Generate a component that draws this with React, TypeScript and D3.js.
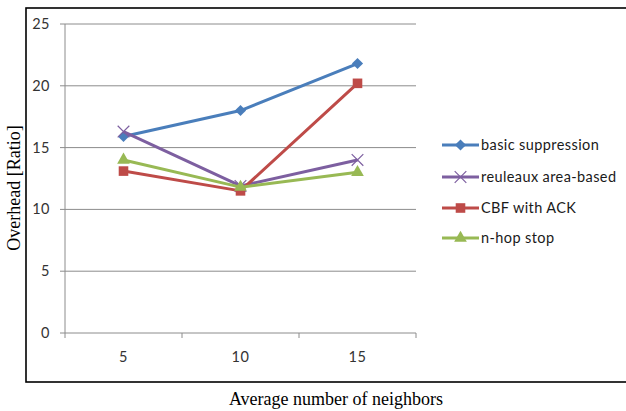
import React, { useEffect, useRef } from "react";
import * as d3 from "d3";

const categories = ["5", "10", "15"];
const yTicks = [0, 5, 10, 15, 20, 25];

const seriesNames = ["basic suppression", "reuleaux area-based", "CBF with ACK", "n-hop stop"];
const basicSuppression = [15.9, 18.0, 21.8];
const reuleauxAreaBased = [16.3, 11.9, 14.0];
const cbfWithAck = [13.1, 11.5, 20.2];
const nHopStop = [14.0, 11.8, 13.0];

const seriesValues = [basicSuppression, reuleauxAreaBased, cbfWithAck, nHopStop];
const seriesColors = ["#4a7ebb", "#7d5fa0", "#be4b48", "#98b954"];
const seriesMarkers = ["diamond", "x", "square", "triangle"];

const W = 626;
const H = 411;

function markerPath(kind: string): { d: string; rotate: number } {
  if (kind === "diamond") return { d: d3.symbol(d3.symbolSquare, 62)() as string, rotate: 45 };
  if (kind === "square") return { d: d3.symbol(d3.symbolSquare, 92)() as string, rotate: 0 };
  if (kind === "triangle") return { d: d3.symbol(d3.symbolTriangle, 70)() as string, rotate: 0 };
  return { d: d3.symbol(d3.symbolX, 90)() as string, rotate: 0 };
}

function drawMarker(
  g: d3.Selection<SVGGElement, unknown, null, undefined>,
  kind: string,
  color: string,
  x: number,
  y: number
) {
  const m = markerPath(kind);
  const p = g
    .append("path")
    .attr("d", m.d)
    .attr("transform", `translate(${x},${y}) rotate(${m.rotate})`);
  if (kind === "x") {
    p.attr("fill", "none").attr("stroke", color).attr("stroke-width", 1.2);
  } else {
    p.attr("fill", color).attr("stroke", "none");
  }
}

export default function App() {
  const ref = useRef<SVGSVGElement | null>(null);

  useEffect(() => {
    const svg = d3.select(ref.current);
    svg.selectAll("*").remove();

    const x = d3.scaleBand<string>().domain(categories).range([65, 416]).padding(0);
    const y = d3.scaleLinear().domain([0, 25]).range([333, 24]);

    // outer chart frame
    svg
      .append("rect")
      .attr("x", 26)
      .attr("y", 8)
      .attr("width", 640)
      .attr("height", 374)
      .attr("fill", "#fff")
      .attr("stroke", "#000")
      .attr("stroke-width", 1.6);

    const tickFont = "Lato, 'Open Sans', sans-serif";

    // horizontal gridlines
    const grid = svg.append("g");
    yTicks.forEach((t) => {
      grid
        .append("line")
        .attr("x1", 60)
        .attr("x2", 416)
        .attr("y1", y(t))
        .attr("y2", y(t))
        .attr("stroke", "#8c8c8c")
        .attr("stroke-width", 1);
      grid
        .append("text")
        .attr("x", 50)
        .attr("y", y(t))
        .attr("dy", "0.35em")
        .attr("text-anchor", "end")
        .attr("font-family", tickFont)
        .attr("font-size", 14.5)
        .attr("letter-spacing", 0.5)
        .attr("fill", "#333")
        .text(String(t));
    });

    // vertical axis line
    svg
      .append("line")
      .attr("x1", 65)
      .attr("x2", 65)
      .attr("y1", y(25))
      .attr("y2", y(0))
      .attr("stroke", "#8c8c8c")
      .attr("stroke-width", 1);

    // category boundary ticks
    const bounds = [...categories.map((c) => x(c) as number), 416];
    bounds.forEach((b) => {
      svg
        .append("line")
        .attr("x1", b)
        .attr("x2", b)
        .attr("y1", y(0))
        .attr("y2", y(0) + 5)
        .attr("stroke", "#8c8c8c")
        .attr("stroke-width", 1);
    });

    categories.forEach((c) => {
      svg
        .append("text")
        .attr("x", (x(c) as number) + x.bandwidth() / 2)
        .attr("y", 357)
        .attr("dy", "0.35em")
        .attr("text-anchor", "middle")
        .attr("font-family", tickFont)
        .attr("font-size", 14.5)
        .attr("letter-spacing", 0.5)
        .attr("fill", "#333")
        .text(c);
    });

    const cx = (c: string) => (x(c) as number) + x.bandwidth() / 2;

    // series lines and markers
    seriesValues.forEach((vals, i) => {
      const line = d3
        .line<number>()
        .x((_, j) => cx(categories[j]))
        .y((v) => y(v));
      svg
        .append("path")
        .attr("d", line(vals) as string)
        .attr("fill", "none")
        .attr("stroke", seriesColors[i])
        .attr("stroke-width", 3)
        .attr("stroke-linejoin", "round");
      const g = svg.append("g");
      vals.forEach((v, j) => drawMarker(g, seriesMarkers[i], seriesColors[i], cx(categories[j]), y(v)));
    });

    // legend
    const legendRows = [145, 177, 208, 238];
    seriesNames.forEach((name, i) => {
      const ly = legendRows[i];
      svg
        .append("line")
        .attr("x1", 442)
        .attr("x2", 479)
        .attr("y1", ly)
        .attr("y2", ly)
        .attr("stroke", seriesColors[i])
        .attr("stroke-width", 3);
      const g = svg.append("g");
      drawMarker(g, seriesMarkers[i], seriesColors[i], 460.5, ly);
      svg
        .append("text")
        .attr("x", 481)
        .attr("y", ly)
        .attr("dy", "0.35em")
        .attr("font-family", tickFont)
        .attr("font-size", 14.5)
        .attr("letter-spacing", 0.4)
        .attr("fill", "#1a1a1a")
        .text(name);
    });

    // axis titles
    svg
      .append("text")
      .attr("x", 336)
      .attr("y", 405)
      .attr("text-anchor", "middle")
      .attr("font-family", "'Liberation Serif', 'Times New Roman', serif")
      .attr("font-size", 18)
      .attr("fill", "#000")
      .text("Average number of neighbors");

    svg
      .append("text")
      .attr("transform", `translate(20,188) rotate(-90)`)
      .attr("text-anchor", "middle")
      .attr("font-family", "'Liberation Serif', 'Times New Roman', serif")
      .attr("font-size", 18)
      .attr("fill", "#000")
      .text("Overhead [Ratio]");
  }, []);

  return (
    <svg
      ref={ref}
      width={W}
      height={H}
      style={{ position: "absolute", left: 0, top: 0, display: "block", background: "#fff" }}
    />
  );
}
